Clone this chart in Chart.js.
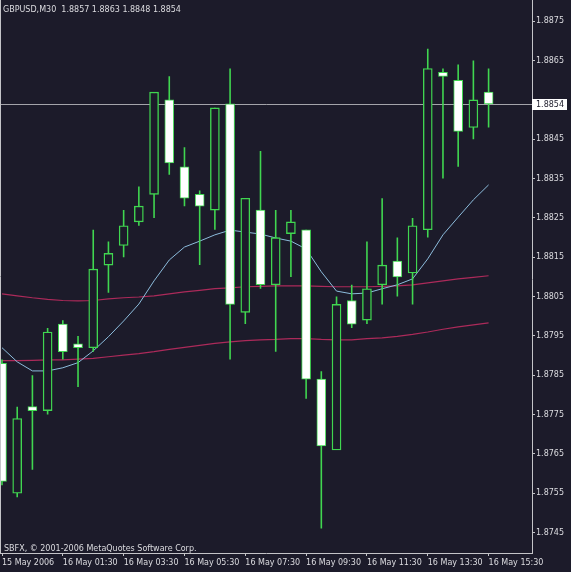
<!DOCTYPE html>
<html><head><meta charset="utf-8">
<script src="https://cdn.jsdelivr.net/npm/chart.js@4.4.1/dist/chart.umd.min.js"></script>
<style>html,body{margin:0;padding:0;background:#1c1b2a;}canvas{display:block}</style>
</head><body>
<canvas id="c" width="571" height="572"></canvas>
<script>
const headerText = "GBPUSD,M30  1.8857 1.8863 1.8848 1.8854";
const copyrightText = "SBFX, \u00A9 2001-2006 MetaQuotes Software Corp.";
const timeLabels = ["15 May 2006","16 May 01:30","16 May 03:30","16 May 05:30","16 May 07:30","16 May 09:30","16 May 11:30","16 May 13:30","16 May 15:30"];
const labelBars = [0,4,8,12,16,20,24,28,32];
const priceTicks = [1.8745,1.8755,1.8765,1.8775,1.8785,1.8795,1.8805,1.8815,1.8825,1.8835,1.8845,1.8865,1.8875];
const lastPrice = 1.8854;

const openP  = [1.8788,1.8755,1.8777,1.8776,1.8798,1.8793,1.8792,1.8813,1.8818,1.8824,1.8831,1.8855,1.8838,1.8831,1.8827,1.8854,1.8801,1.8827,1.8808,1.8821,1.8822,1.8784,1.8766,1.8804,1.8799,1.8808,1.8814,1.8811,1.8822,1.8862,1.8860,1.8848,1.8857];
const highP  = [1.8789,1.8777,1.8785,1.8797,1.8799,1.8795,1.8822,1.8819,1.8827,1.8833,1.8857,1.8861,1.8843,1.8832,1.8853,1.8863,1.8830,1.8842,1.8827,1.8827,1.8822,1.8786,1.8805,1.8808,1.8819,1.8830,1.8820,1.8825,1.8868,1.8863,1.8864,1.8865,1.8863];
const lowP   = [1.8757,1.8754,1.8761,1.8775,1.8789,1.8782,1.8791,1.8806,1.8815,1.8823,1.8825,1.8836,1.8828,1.8813,1.8822,1.8789,1.8798,1.8807,1.8791,1.8810,1.8779,1.8746,1.8766,1.8797,1.8798,1.8803,1.8805,1.8803,1.8820,1.8835,1.8838,1.8845,1.8848];
const closeP = [1.8758,1.8774,1.8776,1.8796,1.8791,1.8792,1.8812,1.8816,1.8823,1.8828,1.8857,1.8839,1.8830,1.8828,1.8853,1.8803,1.8830,1.8808,1.8820,1.8824,1.8784,1.8767,1.8803,1.8798,1.8807,1.8813,1.8810,1.8823,1.8863,1.8861,1.8847,1.8855,1.8854];

const maFast = [1.87920,1.87884,1.87861,1.87861,1.87869,1.87882,1.87912,1.87948,1.87988,1.88031,1.88090,1.88143,1.88176,1.88191,1.88207,1.88219,1.88214,1.88209,1.88199,1.88191,1.88171,1.88113,1.88064,1.88057,1.88059,1.88070,1.88080,1.88095,1.88146,1.88207,1.88252,1.88296,1.88334];
const maMid  = [1.88057,1.88052,1.88047,1.88043,1.88040,1.88039,1.88040,1.88044,1.88047,1.88049,1.88052,1.88057,1.88062,1.88066,1.88070,1.88072,1.88075,1.88076,1.88077,1.88077,1.88077,1.88076,1.88075,1.88075,1.88075,1.88076,1.88077,1.88080,1.88085,1.88090,1.88095,1.88099,1.88103];
const maSlow = [1.87887,1.87887,1.87888,1.87889,1.87889,1.87891,1.87893,1.87897,1.87901,1.87905,1.87910,1.87916,1.87921,1.87926,1.87931,1.87935,1.87938,1.87940,1.87941,1.87943,1.87943,1.87941,1.87940,1.87940,1.87943,1.87945,1.87949,1.87954,1.87960,1.87967,1.87973,1.87978,1.87983];

const BG = '#1c1b2a';
const GREEN = '#40d650';
const AXIS = '#c4c4c8';
const TXT = '#dcdce0';

const bullBodies = [], bearBodies = [], wicks = [];
openP.forEach((o, i) => {
  const c = closeP[i];
  wicks.push({x: i, y: [lowP[i], highP[i]]});
  if (c >= o) bullBodies.push({x: i, y: [o, c]});
  else bearBodies.push({x: i, y: [c, o]});
});
const toPts = arr => arr.map((v, i) => ({x: i, y: v}));

Chart.defaults.font.family = "'DejaVu Sans', sans-serif";
Chart.defaults.font.size = 8;

const bgPlugin = {
  id: 'bg',
  beforeDraw(chart) {
    const ctx = chart.ctx;
    ctx.save();
    ctx.fillStyle = BG;
    ctx.fillRect(0, 0, chart.width, chart.height);
    ctx.restore();
  },
  beforeDatasetsDraw(chart) {
    const ctx = chart.ctx, a = chart.chartArea;
    const y = Math.round(chart.scales.y.getPixelForValue(lastPrice)) + 0.5;
    ctx.save();
    ctx.strokeStyle = '#a4a4aa';
    ctx.lineWidth = 1;
    ctx.beginPath();
    ctx.moveTo(a.left, y);
    ctx.lineTo(a.right, y);
    ctx.stroke();
    ctx.restore();
  },
  afterDraw(chart) {
    const ctx = chart.ctx, a = chart.chartArea;
    ctx.save();
    ctx.strokeStyle = AXIS;
    ctx.lineWidth = 1;
    ctx.beginPath();
    ctx.moveTo(0.5, 0);
    ctx.lineTo(0.5, a.bottom);
    ctx.moveTo(Math.round(a.right) + 0.5, 0);
    ctx.lineTo(Math.round(a.right) + 0.5, a.top + 1);
    ctx.stroke();
    ctx.font = "8px 'DejaVu Sans'";
    ctx.fillStyle = TXT;
    ctx.textBaseline = 'alphabetic';
    ctx.fillText(headerText, 3, 12);
    ctx.fillText(copyrightText, 4, 551);
    const y = chart.scales.y.getPixelForValue(lastPrice);
    ctx.fillStyle = '#ffffff';
    ctx.fillRect(a.right, Math.round(y) - 5, 35, 11);
    ctx.fillStyle = BG;
    ctx.textBaseline = 'middle';
    ctx.fillText(lastPrice.toFixed(4), a.right + 4, Math.round(y) + 0.5);
    ctx.restore();
  }
};

new Chart(document.getElementById('c'), {
  type: 'bar',
  data: {
    datasets: [
      {label: 'bear', data: bearBodies, backgroundColor: '#ffffff', borderColor: GREEN, borderWidth: 1, borderSkipped: false, barThickness: 9, grouped: false, order: 0},
      {label: 'bull', data: bullBodies, backgroundColor: BG, borderColor: GREEN, borderWidth: 1.4, borderSkipped: false, barThickness: 9, grouped: false, order: 1},
      {label: 'wick', data: wicks, backgroundColor: GREEN, borderWidth: 0, barThickness: 1.6, grouped: false, inflateAmount: 0, order: 2},
      {type: 'line', label: 'MA fast', data: toPts(maFast), borderColor: '#8cbcdc', borderWidth: 1, pointRadius: 0, tension: 0, order: 3},
      {type: 'line', label: 'MA mid', data: toPts(maMid), borderColor: '#ac2a5a', borderWidth: 1.2, pointRadius: 0, tension: 0, order: 4},
      {type: 'line', label: 'MA slow', data: toPts(maSlow), borderColor: '#ac2a5a', borderWidth: 1.2, pointRadius: 0, tension: 0, order: 5}
    ]
  },
  options: {
    responsive: false,
    devicePixelRatio: 1,
    animation: false,
    layout: {padding: 0},
    plugins: {legend: {display: false}, tooltip: {enabled: false}, title: {display: false}},
    scales: {
      x: {
        type: 'linear', position: 'bottom', min: -0.1, max: 34.855, offset: false,
        grid: {display: true, drawOnChartArea: false, drawTicks: true, tickLength: 3, color: AXIS, offset: false},
        border: {display: true, color: AXIS, width: 1},
        afterBuildTicks: s => { s.ticks = labelBars.map(v => ({value: v})); },
        afterFit: s => { s.height = 19; },
        ticks: {autoSkip: false, maxRotation: 0, align: 'start', padding: 2, color: TXT,
          callback: (v, idx) => timeLabels[idx]}
      },
      y: {
        type: 'linear', position: 'right', min: 1.87398, max: 1.887894,
        grid: {display: true, drawOnChartArea: false, drawTicks: true, tickLength: 3, color: AXIS},
        border: {display: true, color: AXIS, width: 1},
        afterBuildTicks: s => { s.ticks = priceTicks.map(v => ({value: v})); },
        afterFit: s => { s.width = 39; },
        ticks: {autoSkip: false, padding: 1, color: TXT, callback: v => Number(v).toFixed(4)}
      }
    }
  },
  plugins: [bgPlugin]
});
</script>
</body></html>
